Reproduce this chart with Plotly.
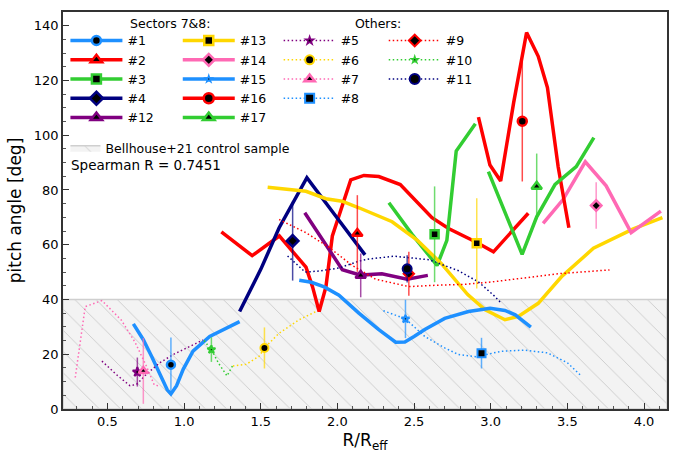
import plotly.graph_objects as go

# ---------------- data ----------------
# Sectors 7&8 profiles (solid lines)
x1 = [0.669, 0.734, 0.79, 0.842, 0.89, 0.914, 0.951, 0.994, 1.058, 1.167, 1.275, 1.362]
y1 = [31.1, 25.3, 19.0, 12.7, 7.0, 5.5, 8.5, 14.5, 21.1, 26.5, 29.5, 31.9]
x2 = [1.243, 1.444, 1.621, 1.795, 1.838, 1.881, 1.925, 1.967, 2.087, 2.173, 2.27, 2.41, 2.617, 2.725, 2.90, 3.018, 3.245]
y2 = [64.7, 56.0, 63.2, 51.8, 44.6, 35.6, 44.6, 63.2, 83.7, 85.3, 84.9, 82.0, 69.9, 65.9, 61.1, 57.4, 71.5]
x3 = [2.336, 2.487, 2.65, 2.714, 2.775, 2.90]
y3 = [75.3, 63.8, 52.4, 61.6, 94.2, 104.2]
x4 = [1.362, 1.50, 1.62, 1.801, 1.99, 2.18]
y4 = [35.6, 51.0, 66.2, 84.5, 70.4, 56.3]
x12 = [1.787, 2.032, 2.152, 2.29, 2.455, 2.59]
y12 = [71.7, 50.9, 48.9, 49.4, 47.4, 48.8]
x13 = [1.545, 1.795, 1.925, 2.03, 2.14, 2.27, 2.357, 2.52, 2.68, 2.85, 2.964, 3.093, 3.18, 3.31, 3.46, 3.67, 3.93, 4.12]
y13 = [81.0, 79.5, 76.8, 75.9, 73.5, 70.5, 68.4, 61.7, 53.0, 41.8, 36.2, 32.6, 33.8, 38.6, 48.2, 58.7, 65.8, 69.9]
x14 = [3.342, 3.472, 3.617, 3.753, 3.916, 4.11]
y14 = [67.8, 76.5, 90.3, 81.5, 64.4, 72.3]
x15 = [1.751, 1.83, 1.914, 2.01, 2.14, 2.27, 2.38, 2.44, 2.50, 2.57, 2.70, 2.855, 2.996, 3.093, 3.16, 3.262]
y15 = [47.0, 46.3, 44.6, 41.6, 35.0, 29.0, 24.4, 24.5, 26.5, 29.0, 33.1, 35.6, 36.8, 36.0, 34.4, 29.9]
x16 = [2.92, 2.995, 3.065, 3.15, 3.234, 3.31, 3.37, 3.44, 3.51]
y16 = [106.6, 89.1, 83.3, 112.0, 137.5, 128.8, 117.4, 88.5, 66.2]
x17 = [2.985, 3.205, 3.30, 3.42, 3.558, 3.673]
y17 = [86.7, 56.5, 70.2, 82.0, 88.5, 99.1]

# Other profiles (dotted lines)
x5 = [0.464, 0.56, 0.647, 0.69, 0.76, 0.842, 0.929, 1.058, 1.123]
y5 = [17.5, 12.5, 8.5, 9.0, 13.0, 16.9, 19.9, 23.5, 25.2]
x6 = [1.318, 1.405, 1.49, 1.524, 1.62, 1.75, 1.86]
y6 = [15.7, 16.3, 19.3, 22.3, 27.7, 32.6, 35.6]
x7 = [0.29, 0.355, 0.464, 0.59, 0.68, 0.756, 0.805, 0.83]
y7 = [11.5, 37.4, 39.6, 32.5, 24.4, 15.4, 8.8, 8.5]
x8 = [2.30, 2.444, 2.57, 2.70, 2.79, 2.90, 2.94, 3.07, 3.22, 3.37, 3.50, 3.59]
y8 = [35.9, 32.9, 26.5, 22.3, 19.9, 19.1, 19.5, 21.1, 21.5, 20.5, 16.9, 12.1]
x9 = [1.62, 1.795, 1.946, 2.097, 2.25, 2.466, 2.64, 2.82, 3.006, 3.223, 3.44, 3.775]
y9 = [69.2, 64.4, 59.0, 52.4, 47.4, 44.7, 45.2, 45.5, 46.4, 47.9, 49.4, 50.8]
x10 = [1.13, 1.178, 1.226, 1.28, 1.318]
y10 = [25.0, 21.7, 16.6, 12.1, 16.0]
x11 = [1.675, 1.79, 1.881, 2.011, 2.14, 2.206, 2.37, 2.6, 2.79, 2.92, 3.018, 3.07]
y11 = [55.9, 50.0, 50.4, 51.5, 54.0, 54.8, 55.8, 54.5, 50.5, 46.4, 41.6, 38.6]

# summary points: name, R/Reff, pitch angle, error
point_names = ["#1", "#2", "#3", "#4", "#12", "#13", "#14", "#15", "#16", "#17",
               "#5", "#6", "#7", "#8", "#9", "#10", "#11"]
point_x = [0.914, 2.13, 2.634, 1.708, 2.152, 2.909, 3.688, 2.444, 3.206, 3.30,
           0.695, 1.524, 0.734, 2.94, 2.466, 1.178, 2.455]
point_y = [16.2, 64.1, 63.8, 61.4, 48.8, 60.5, 74.3, 32.9, 105.1, 81.3,
           13.5, 22.3, 13.9, 20.4, 49.4, 21.7, 51.2]
point_err = [9.9, 14.0, 17.5, 14.5, 8.0, 16.5, 8.5, 7.0, 22.0, 12.0,
             5.3, 7.5, 12.0, 5.6, 8.0, 4.5, 5.0]

control_low, control_high = 0, 40
spearman_text = "Spearman R = 0.7451"
x_ticks = [0.5, 1.0, 1.5, 2.0, 2.5, 3.0, 3.5, 4.0]
y_ticks = [0, 20, 40, 60, 80, 100, 120, 140]
x_range = [0.21, 4.15]
y_range = [0, 145]

# ---------------- styles ----------------
DODGER = "#1E90FF"; RED = "#FF0000"; LIME = "#32CD32"; NAVY = "#000080"
PURPLE = "#800080"; GOLD = "#FFD700"; PINK = "#FF69B4"
DOTTED = "1.5px,2.5px"

def rgba(hexc, a):
    h = hexc.lstrip("#")
    return "rgba(%d,%d,%d,%.2f)" % (int(h[0:2], 16), int(h[2:4], 16), int(h[4:6], 16), a)

profiles = {
    "#1": (x1, y1), "#2": (x2, y2), "#3": (x3, y3), "#4": (x4, y4), "#12": (x12, y12),
    "#13": (x13, y13), "#14": (x14, y14), "#15": (x15, y15), "#16": (x16, y16), "#17": (x17, y17),
    "#5": (x5, y5), "#6": (x6, y6), "#7": (x7, y7), "#8": (x8, y8),
    "#9": (x9, y9), "#10": (x10, y10), "#11": (x11, y11),
}
# colour, dash, symbol, marker size, marker edge width, legend id
style = {
    "#1": (DODGER, "solid", "circle", 8, 2.5, "legend"),
    "#2": (RED, "solid", "triangle-up", 9, 2.5, "legend"),
    "#3": (LIME, "solid", "square", 8, 2.5, "legend"),
    "#4": (NAVY, "solid", "diamond", 9, 2.5, "legend"),
    "#12": (PURPLE, "solid", "triangle-up", 9, 2.5, "legend"),
    "#13": (GOLD, "solid", "square", 8, 2.5, "legend2"),
    "#14": (PINK, "solid", "diamond", 8, 2.5, "legend2"),
    "#15": (DODGER, "solid", "star", 6, 2.0, "legend2"),
    "#16": (RED, "solid", "circle", 9, 2.5, "legend2"),
    "#17": (LIME, "solid", "triangle-up", 9, 2.5, "legend2"),
    "#5": (PURPLE, "dot", "star", 7, 2.0, "legend3"),
    "#6": (GOLD, "dot", "circle", 8, 2.0, "legend3"),
    "#7": (PINK, "dot", "triangle-up", 8, 2.5, "legend3"),
    "#8": (DODGER, "dot", "square", 8, 2.0, "legend3"),
    "#9": (RED, "dot", "diamond", 8, 2.0, "legend4"),
    "#10": (LIME, "dot", "star", 6, 2.0, "legend4"),
    "#11": (NAVY, "dot", "circle", 9, 2.0, "legend4"),
}

fig = go.Figure()

# control-sample hatched band
fig.add_trace(go.Scatter(
    x=[x_range[0], x_range[1], x_range[1], x_range[0], x_range[0]],
    y=[control_low, control_low, control_high, control_high, control_low],
    mode="lines", fill="toself", fillcolor="#f3f3f3",
    fillpattern=dict(shape="\\", fgcolor="#a0a0a0", bgcolor="#f3f3f3", size=15, solidity=0.06),
    line=dict(color="#cfcfcf", width=1.5),
    name="Bellhouse+21 control sample", legend="legend5", hoverinfo="skip"))

# profile lines
for name in point_names:
    col, dash, sym, msz, mlw, leg = style[name]
    xs, ys = profiles[name]
    fig.add_trace(go.Scatter(
        x=xs, y=ys, mode="lines", showlegend=False,
        line=dict(color=col, width=3.5 if dash == "solid" else 1.5,
                  dash="solid" if dash == "solid" else DOTTED)))

# summary points with error bars
for name, px_, py_, pe in zip(point_names, point_x, point_y, point_err):
    col, dash, sym, msz, mlw, leg = style[name]
    fig.add_trace(go.Scatter(
        x=[px_], y=[py_], mode="markers", showlegend=False,
        error_y=dict(type="data", array=[pe], color=rgba(col, 0.7), thickness=1.5, width=0),
        marker=dict(symbol=sym, size=msz, color="black", line=dict(color=col, width=mlw))))

# legend-only entries
for name in point_names:
    col, dash, sym, msz, mlw, leg = style[name]
    lsz = msz - 1 if sym == "star" else msz + 1
    fig.add_trace(go.Scatter(
        x=[None], y=[None], mode="lines+markers", name=name, legend=leg,
        line=dict(color=col, width=3.5 if dash == "solid" else 1.5,
                  dash="solid" if dash == "solid" else DOTTED),
        marker=dict(symbol=sym, size=lsz, color="black",
                    line=dict(color=col, width=1.5 if sym == "star" else mlw))))

def legend_box(xp, yp, iw=52):
    return dict(x=xp, y=yp, xanchor="left", yanchor="top", bgcolor="rgba(0,0,0,0)",
                borderwidth=0, font=dict(family="DejaVu Sans", size=12.5, color="black"),
                itemwidth=iw, tracegroupgap=0)

fig.update_layout(
    width=675, height=453,
    margin=dict(l=63, r=6, t=12, b=40),
    paper_bgcolor="white", plot_bgcolor="white",
    font=dict(family="DejaVu Sans", size=13, color="black"),
    legend=legend_box(0.004, 0.965),
    legend2=legend_box(0.19, 0.965),
    legend3=legend_box(0.357, 0.965),
    legend4=legend_box(0.531, 0.965),
    legend5=legend_box(0.004, 0.695, iw=30),
    xaxis=dict(range=x_range, tickvals=x_ticks, ticktext=["%.1f" % v for v in x_ticks],
               ticks="inside", ticklen=6, tickwidth=1, tickcolor="#333",
               minor=dict(dtick=0.1, ticks="inside", ticklen=3, tickcolor="#555"),
               showline=True, linecolor="#333", linewidth=1.5, mirror=True,
               showgrid=False, zeroline=False,
               title=dict(text="R/R<sub>eff</sub>", font=dict(size=17), standoff=6),
               tickfont=dict(size=13)),
    yaxis=dict(range=y_range, tickvals=y_ticks,
               ticks="inside", ticklen=6, tickwidth=1, tickcolor="#333",
               minor=dict(dtick=5, ticks="inside", ticklen=3, tickcolor="#555"),
               showline=True, linecolor="#333", linewidth=1.5, mirror=True,
               showgrid=False, zeroline=False,
               title=dict(text="pitch angle [deg]", font=dict(size=17), standoff=8),
               tickfont=dict(size=13)),
    annotations=[
        dict(text="Sectors 7&amp;8:", x=0.178, y=0.972, xref="paper", yref="paper",
             showarrow=False, xanchor="center", yanchor="middle", font=dict(size=12.5)),
        dict(text="Others:", x=0.521, y=0.972, xref="paper", yref="paper",
             showarrow=False, xanchor="center", yanchor="middle", font=dict(size=12.5)),
        dict(text=spearman_text, x=0.010, y=0.615, xref="paper", yref="paper",
             showarrow=False, xanchor="left", yanchor="middle", font=dict(size=13.5)),
    ],
)

fig.write_html("out.html")
